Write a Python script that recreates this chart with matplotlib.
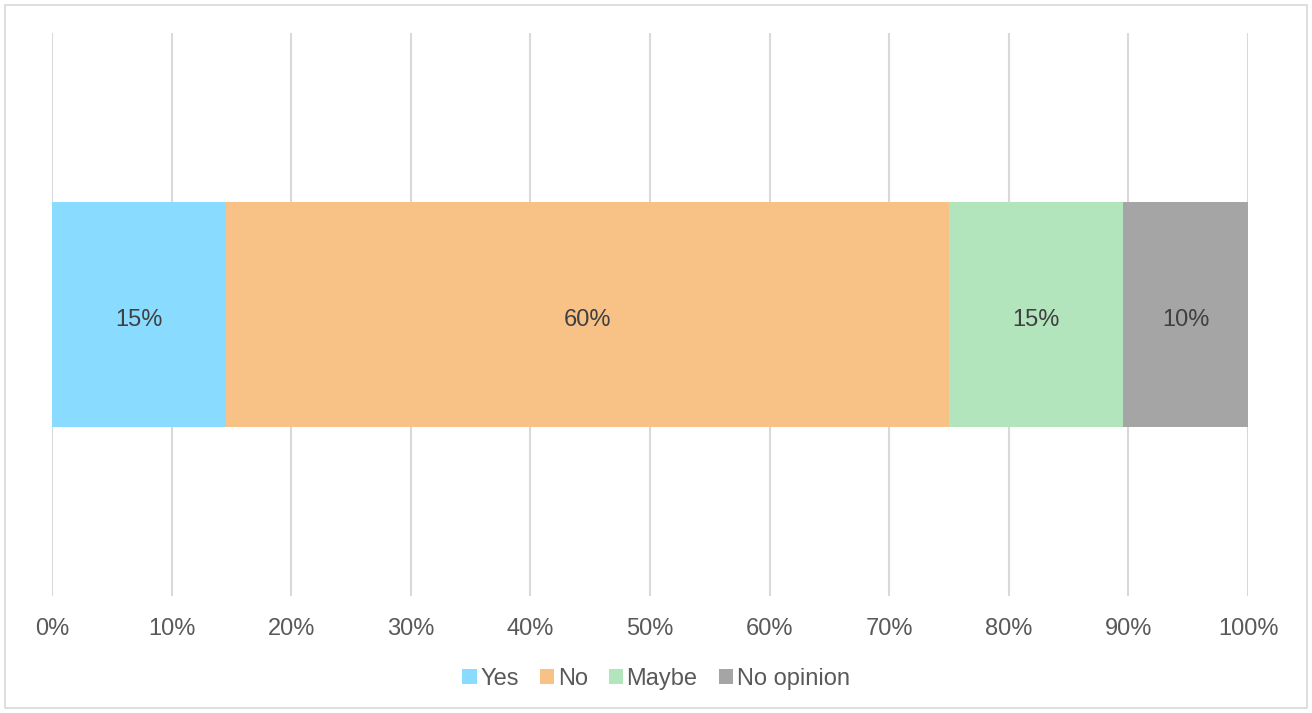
import matplotlib.pyplot as plt
from matplotlib.patches import Rectangle
from matplotlib.ticker import PercentFormatter

# ===== data =====
CATEGORIES = ["Yes", "No", "Maybe", "No opinion"]
COUNTS = [7, 29, 7, 5]  # responses (48 total)
COLORS = ["#89dbff", "#f8c287", "#b2e5bb", "#a5a5a5"]
X_TICKS = list(range(0, 101, 10))

plt.rcParams["font.family"] = ["Liberation Sans", "DejaVu Sans"]

total = sum(COUNTS)
shares = [c / total * 100 for c in COUNTS]

fig = plt.figure(figsize=(13.12, 7.13), dpi=100)
ax = fig.add_axes([52 / 1312, 1 - 596 / 713, (1248 - 52) / 1312, (596 - 33) / 713])

left = 0.0
for name, val, col in zip(CATEGORIES, shares, COLORS):
    ax.barh([0], [val], left=left, height=0.4, color=col, label=name)
    # label a touch below centre, like the original
    ax.annotate(f"{val:.0f}%", (left + val / 2, 0), xytext=(0, -4),
                textcoords="offset points", ha="center", va="center",
                fontsize=17, color="#404040")
    left += val

ax.set_xlim(0, 100)
ax.set_ylim(-0.5, 0.5)
ax.set_xticks(X_TICKS)
ax.xaxis.set_major_formatter(PercentFormatter(decimals=0))
ax.set_yticks([])
ax.tick_params(axis="x", length=0, pad=16, labelsize=17, labelcolor="#595959")
ax.grid(axis="x", color="#d9d9d9", linewidth=1.5)
ax.set_axisbelow(True)
for s in ax.spines.values():
    s.set_visible(False)

fig.legend(loc="center", bbox_to_anchor=(0.5, 1 - 679 / 713), ncol=4,
           frameon=False, fontsize=17, labelcolor="#595959",
           handlelength=0.6, handleheight=0.6, handletextpad=0.15,
           columnspacing=0.9)

# outer chart border
fig.patches.append(Rectangle((5 / 1312, 5 / 713), 1302 / 1312, 703 / 713,
                             transform=fig.transFigure, fill=False,
                             edgecolor="#d9d9d9", linewidth=1.2))

fig.savefig("out.png", dpi=100)
